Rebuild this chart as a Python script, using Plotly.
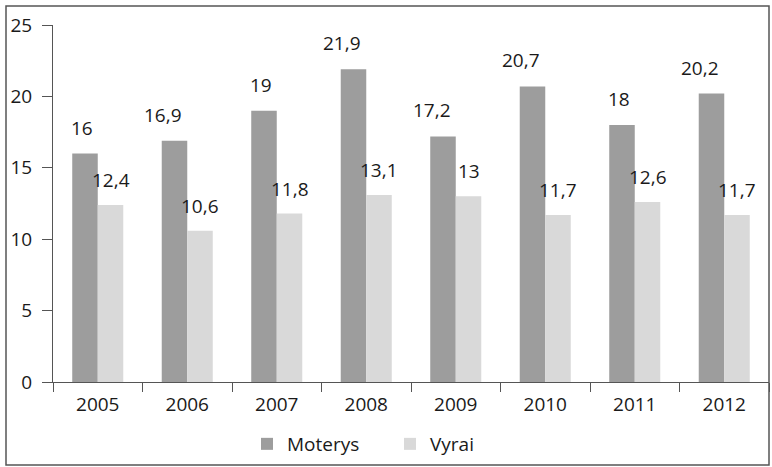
import plotly.graph_objects as go

years = ["2005", "2006", "2007", "2008", "2009", "2010", "2011", "2012"]
moterys = [16, 16.9, 19, 21.9, 17.2, 20.7, 18, 20.2]
vyrai = [12.4, 10.6, 11.8, 13.1, 13, 11.7, 12.6, 11.7]
labels_m = ["16", "16,9", "19", "21,9", "17,2", "20,7", "18", "20,2"]
labels_v = ["12,4", "10,6", "11,8", "13,1", "13", "11,7", "12,6", "11,7"]

FONT = "Open Sans"
TXT = "#1a1a1a"
FS = 19

fig = go.Figure()
fig.add_trace(go.Bar(x=years, y=moterys, name="Moterys", marker_color="#9d9d9d",
                     marker_line_width=0))
fig.add_trace(go.Bar(x=years, y=vyrai, name="Vyrai", marker_color="#d9d9d9",
                     marker_line_width=0))

for i, (v, t) in enumerate(zip(moterys, labels_m)):
    fig.add_annotation(x=i, y=v, text=t, showarrow=False, xanchor="right", xshift=-3,
                       yshift=26, yanchor="middle",
                       font=dict(family=FONT, size=FS, color=TXT))
for i, (v, t) in enumerate(zip(vyrai, labels_v)):
    fig.add_annotation(x=i, y=v, text=t, showarrow=False, xshift=13, yshift=25,
                       yanchor="middle", font=dict(family=FONT, size=FS, color=TXT))

W, H = 772, 467
L, R, T, B = 53, 3, 25, 85
pw = W - L - R
ph = H - T - B

def px(x):
    return (x - L) / pw

def py(y):
    return (H - B - y) / ph

fig.add_shape(type="rect", xref="paper", yref="paper",
              x0=px(6), x1=px(769), y0=py(465), y1=py(6),
              line=dict(color="#555555", width=1.5), fillcolor="rgba(0,0,0,0)")

fig.update_layout(
    width=W, height=H,
    margin=dict(l=L, r=R, t=T, b=B),
    paper_bgcolor="white", plot_bgcolor="white",
    barmode="group", bargap=0.43, bargroupgap=0,
    font=dict(family=FONT, size=FS, color=TXT),
    showlegend=True,
    legend=dict(orientation="h", x=px(390), xanchor="center", y=py(444), yanchor="middle",
                font=dict(family=FONT, size=FS, color=TXT), entrywidth=98,
                itemwidth=30, bgcolor="rgba(0,0,0,0)"),
)
fig.update_xaxes(type="category", range=[-0.5, 7.5], showline=True, linecolor="#555555",
                 linewidth=1, ticks="outside", tickson="boundaries", ticklen=9,
                 tickcolor="#555555", tickangle=0, ticklabelstandoff=5,
                 showgrid=False, zeroline=False, tickfont=dict(family=FONT, size=FS, color=TXT))
fig.update_yaxes(range=[0, 25], tickvals=[0, 5, 10, 15, 20, 25], showline=True,
                 linecolor="#555555", linewidth=1, ticks="outside", ticklen=10,
                 tickcolor="#555555", showgrid=False, zeroline=False,
                 ticklabelstandoff=6,
                 tickfont=dict(family=FONT, size=FS, color=TXT))

fig.write_html("out.html", config={"displayModeBar": False},
               post_script="document.body.style.margin='0';document.body.style.overflow='hidden';")
